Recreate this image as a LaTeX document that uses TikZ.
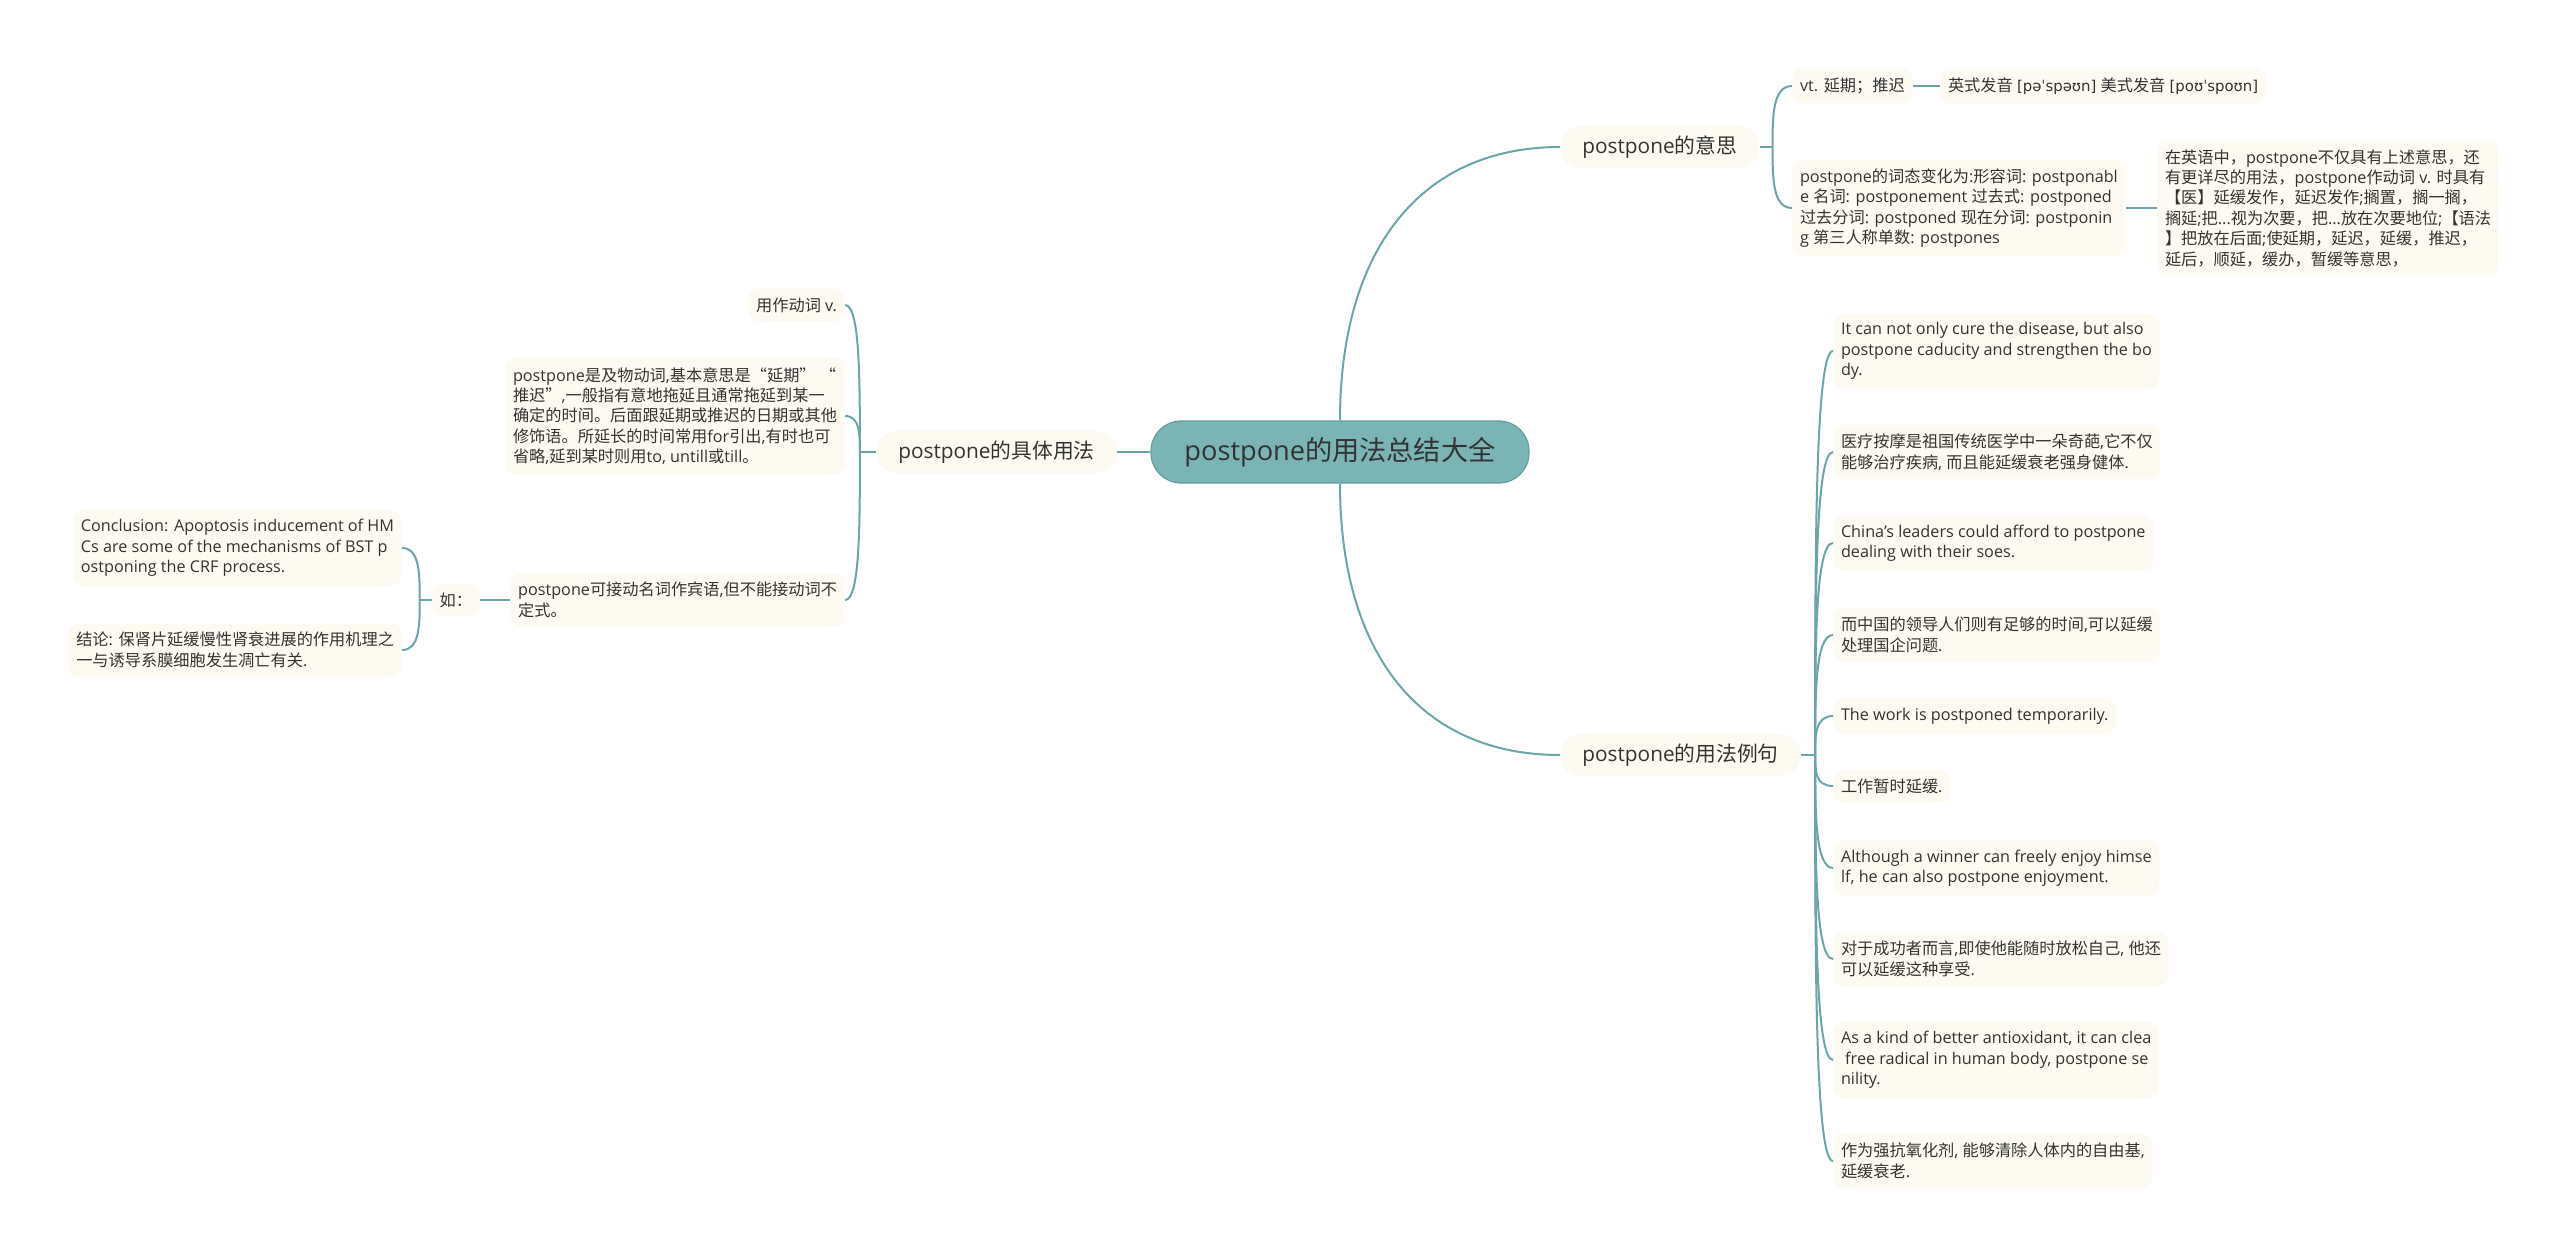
\documentclass[tikz,border=0pt]{standalone}
\usepackage{fontspec}
\setmainfont{Open Sans}
\newfontfamily\cjkfont{Noto Sans CJK SC}
\newfontfamily\ipafont[Scale=0.92]{DejaVu Sans}
% switch to the CJK font for Chinese characters
\XeTeXinterchartokenstate=1
\newXeTeXintercharclass\cjkclass
\newcommand\setcjkrange[2]{\count255=#1 \loop\XeTeXcharclass\count255=\cjkclass\ifnum\count255<#2 \advance\count255 by 1 \repeat}
\setcjkrange{"4E00}{"9FFF}
\setcjkrange{"3000}{"303F}
\setcjkrange{"FF00}{"FFEF}
\setcjkrange{"201C}{"201D}
\XeTeXinterchartoks 0 \cjkclass={\begingroup\cjkfont}
\XeTeXinterchartoks 4095 \cjkclass={\begingroup\cjkfont}
\XeTeXinterchartoks \cjkclass 0={\endgroup}
\XeTeXinterchartoks \cjkclass 4095={\endgroup}
\usepackage{tikz}
\usetikzlibrary{positioning,calc}
\definecolor{rootfill}{RGB}{122,180,181}
\definecolor{rootedge}{RGB}{104,160,162}
\definecolor{twigteal}{RGB}{108,165,167}
\definecolor{cream}{RGB}{253,251,241}
\definecolor{ink}{RGB}{51,51,51}

\begin{document}
\begin{tikzpicture}[
  x=0.5pt, y=-0.5pt,
  topic/.style={fill=rootfill, draw=rootedge, line width=0.6pt, rounded corners=15pt, minimum width=189pt, minimum height=31pt, text=ink, font=\fontsize{13.6pt}{16pt}\selectfont},
  branch/.style={fill=cream, rounded corners=10pt, minimum height=21pt, inner xsep=11pt, text=ink, font=\fontsize{10.4pt}{12pt}\selectfont},
  leaf/.style={fill=cream, rounded corners=5pt, inner xsep=3.8pt, inner ysep=4.5pt, align=left, text=ink, font=\fontsize{8.1pt}{10.2pt}\selectfont},
  link/.style={draw=twigteal, line width=1pt},
  twig/.style={to path={.. controls ($(\tikztostart)!0.5!(\tikztostart|-\tikztotarget)$) and (\tikztostart|-\tikztotarget) .. (\tikztotarget)}}
]
\fill[white] (0,0) rectangle (2560,1258);
\useasboundingbox (0,0) rectangle (2560,1258);

% centre and main branches
\node[topic] (root) at (1340,452) {postpone的用法总结大全};
\node[branch, anchor=west] (mean) at (1560,147) {postpone的意思};
\node[branch, anchor=west] (ex) at (1560,755) {postpone的用法例句};
\node[branch, anchor=east] (spec) at (1117,452) {postpone的具体用法};

\draw[link] (root.west) -- (spec.east);
\draw[link] (root.north) .. controls +(0,-170) and +(-140,0) .. (mean.west);
\draw[link] (root.south) .. controls +(0,170) and +(-140,0) .. (ex.west);

% meaning
\node[leaf, anchor=west] (m1) at (1792,86) {vt. 延期；推迟};
\node[leaf, anchor=west] (m1a) at (1940,86) {英式发音 {\ipafont[pəˈspəʊn]} 美式发音 {\ipafont[poʊˈspoʊn]}};
\node[leaf, anchor=west] (m2) at (1792,208) {postpone的词态变化为:形容词: postponabl\\e 名词: postponement 过去式: postponed\\过去分词: postponed 现在分词: postponin\\g 第三人称单数: postpones};
\node[leaf, anchor=west] (m2a) at (2157,208) {在英语中，postpone不仅具有上述意思，还\\有更详尽的用法，postpone作动词 v. 时具有\\【医】延缓发作，延迟发作;搁置，搁一搁，\\搁延;把...视为次要，把...放在次要地位;【语法\\】把放在后面;使延期，延迟，延缓，推迟，\\延后，顺延，缓办，暂缓等意思，};

\coordinate (mfork) at ($(mean.east)+(13,0)$);
\draw[link] (mean.east) -- (mfork);
\draw[link] (mfork) to[twig] (m1.west);
\draw[link] (mfork) to[twig] (m2.west);
\draw[link] (m1.east) -- (m1a.west);
\draw[link] (m2.east) -- (m2a.west);

% examples
\node[leaf, anchor=west] (e1) at (1833,351) {It can not only cure the disease, but also\\postpone caducity and strengthen the bo\\dy.};
\node[leaf, anchor=west] (e2) at (1833,452) {医疗按摩是祖国传统医学中一朵奇葩,它不仅\\能够治疗疾病, 而且能延缓衰老强身健体.};
\node[leaf, anchor=west] (e3) at (1833,543) {China's leaders could afford to postpone\\dealing with their soes.};
\node[leaf, anchor=west] (e4) at (1833,635) {而中国的领导人们则有足够的时间,可以延缓\\处理国企问题.};
\node[leaf, anchor=west] (e5) at (1833,716) {The work is postponed temporarily.};
\node[leaf, anchor=west] (e6) at (1833,786) {工作暂时延缓.};
\node[leaf, anchor=west] (e7) at (1833,868) {Although a winner can freely enjoy himse\\lf, he can also postpone enjoyment.};
\node[leaf, anchor=west] (e8) at (1833,959) {对于成功者而言,即使他能随时放松自己, 他还\\可以延缓这种享受.};
\node[leaf, anchor=west] (e9) at (1833,1060) {As a kind of better antioxidant, it can clea\\\ free radical in human body, postpone se\\nility.};
\node[leaf, anchor=west] (e10) at (1833,1161) {作为强抗氧化剂, 能够清除人体内的自由基,\\延缓衰老.};

\coordinate (xfork) at ($(ex.east)+(14,0)$);
\draw[link] (ex.east) -- (xfork);
\draw[link] (xfork) to[twig] (e1.west);
\draw[link] (xfork) to[twig] (e2.west);
\draw[link] (xfork) to[twig] (e3.west);
\draw[link] (xfork) to[twig] (e4.west);
\draw[link] (xfork) to[twig] (e5.west);
\draw[link] (xfork) to[twig] (e6.west);
\draw[link] (xfork) to[twig] (e7.west);
\draw[link] (xfork) to[twig] (e8.west);
\draw[link] (xfork) to[twig] (e9.west);
\draw[link] (xfork) to[twig] (e10.west);

% usage
\node[leaf, anchor=east] (s1) at (845,305) {用作动词 v.};
\node[leaf, anchor=east] (s2) at (845,416) {postpone是及物动词,基本意思是“延期” “\\推迟”,一般指有意地拖延且通常拖延到某一\\确定的时间。后面跟延期或推迟的日期或其他\\修饰语。所延长的时间常用for引出,有时也可\\省略,延到某时则用to, untill或till。};
\node[leaf, anchor=east] (s3) at (845,600) {postpone可接动名词作宾语,但不能接动词不\\定式。};
\node[leaf, left=15pt of s3] (ru) {如：};
\node[leaf, anchor=east] (r1) at (402,548) {Conclusion: Apoptosis inducement of HM\\Cs are some of the mechanisms of BST p\\ostponing the CRF process.};
\node[leaf, anchor=east] (r2) at (402,650) {结论: 保肾片延缓慢性肾衰进展的作用机理之\\一与诱导系膜细胞发生凋亡有关.};

\coordinate (sfork) at ($(spec.west)+(-16,0)$);
\draw[link] (spec.west) -- (sfork);
\draw[link] (sfork) to[twig] (s1.east);
\draw[link] (sfork) to[twig] (s2.east);
\draw[link] (sfork) to[twig] (s3.east);
\draw[link] (s3.west) -- (ru.east);
\coordinate (rfork) at ($(ru.west)+(-12,0)$);
\draw[link] (ru.west) -- (rfork);
\draw[link] (rfork) to[twig] (r1.east);
\draw[link] (rfork) to[twig] (r2.east);
\end{tikzpicture}
\end{document}
